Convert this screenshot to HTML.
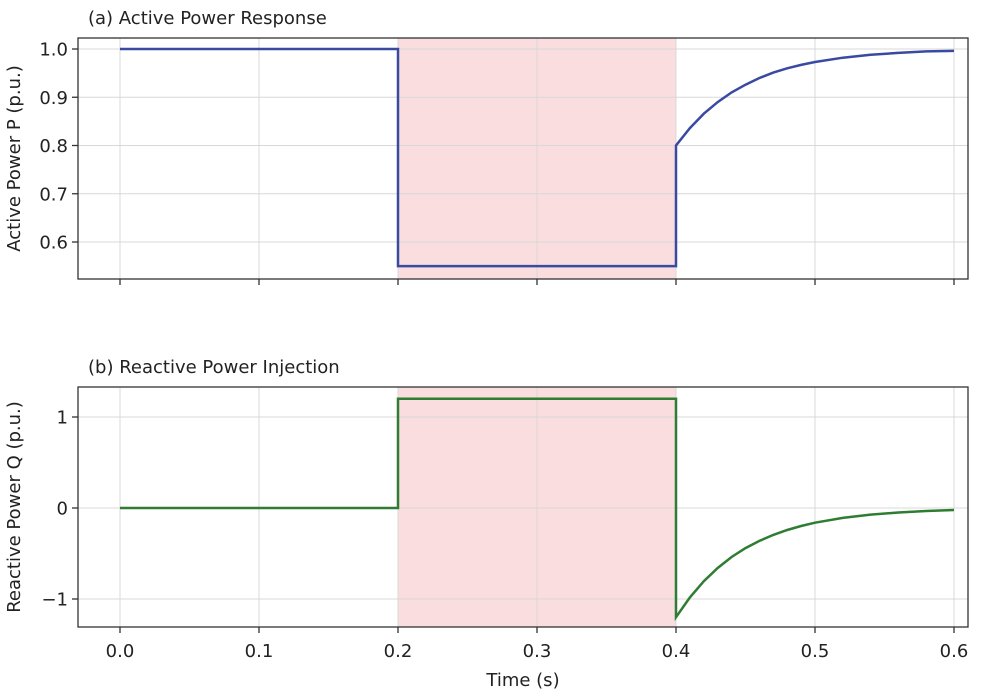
<!DOCTYPE html>
<html><head><meta charset="utf-8"><style>
body{margin:0;background:#fff;}
svg{display:block;font-family:"DejaVu Sans","Liberation Sans",sans-serif;}
</style></head><body>
<svg id="chart" width="999" height="695" viewBox="0 0 999 695"></svg>
<script>
// Data
const pTimes = [0,0.2,0.2,0.4,0.4,0.41,0.42,0.43,0.44,0.45,0.46,0.47,0.48,0.49,0.50,0.52,0.54,0.56,0.58,0.60];
const pValues = [1.0,1.0,0.55,0.55,0.800,0.836,0.866,0.890,0.910,0.926,0.940,0.951,0.960,0.967,0.973,0.982,0.988,0.992,0.995,0.996];
const qTimes = [0,0.2,0.2,0.4,0.4,0.41,0.42,0.43,0.44,0.45,0.46,0.47,0.48,0.49,0.50,0.52,0.54,0.56,0.58,0.60];
const qValues = [0,0,1.2,1.2,-1.2,-0.982,-0.804,-0.659,-0.539,-0.441,-0.361,-0.296,-0.242,-0.198,-0.162,-0.109,-0.073,-0.049,-0.033,-0.022];
const faultWindow = [0.2,0.4];
const xTicks = [0.0,0.1,0.2,0.3,0.4,0.5,0.6];
const pTicks = [0.6,0.7,0.8,0.9,1.0];
const qTicks = [-1,0,1];

const NS="http://www.w3.org/2000/svg";
const svg=document.getElementById('chart');
function mk(tag,attrs,parent){const e=document.createElementNS(NS,tag);for(const k in attrs)e.setAttribute(k,attrs[k]);(parent||svg).appendChild(e);return e;}
const L=78,R=968;
const xs=t=>120+(t-0)*(954-120)/0.6;

function panel(cfg){
  const {top,bottom,ys,yTicks,fmt,times,vals,color,title,ylabel,showXLabels,key}=cfg;
  const g=mk('g',{});
  
  
  const sh=mk('rect',{x:xs(faultWindow[0]),y:top,width:xs(faultWindow[1])-xs(faultWindow[0]),height:bottom-top,fill:'#f5b5ba',opacity:0.45,stroke:'#e0a0a5','stroke-width':1},g);
  
  
  xTicks.forEach(t=>{const l=mk('line',{x1:xs(t),x2:xs(t),y1:top,y2:bottom,stroke:'#d8d8d8','stroke-width':1},g);
    
    mk('line',{x1:xs(t),x2:xs(t),y1:bottom,y2:bottom+6,stroke:'#333','stroke-width':1.3},g);
    if(showXLabels){const tx=mk('text',{x:xs(t),y:bottom+30,'text-anchor':'middle','font-size':18,fill:'#222'},g);tx.textContent=t.toFixed(1);
      }
  });
  yTicks.forEach(v=>{const y=ys(v);const l=mk('line',{x1:L,x2:R,y1:y,y2:y,stroke:'#d8d8d8','stroke-width':1},g);
    
    mk('line',{x1:L-6,x2:L,y1:y,y2:y,stroke:'#333','stroke-width':1.3},g);
    const tx=mk('text',{x:L-10,y:y+6.5,'text-anchor':'end','font-size':18,fill:'#222'},g);tx.textContent=fmt(v);
    });
  const d=times.map((t,i)=>(i?'L':'M')+xs(t).toFixed(1)+','+ys(vals[i]).toFixed(1)).join(' ');
  const p=mk('path',{d:d,fill:'none',stroke:color,'stroke-width':2.5,'stroke-linejoin':'miter'},g);
  
  const box=mk('rect',{x:L,y:top,width:R-L,height:bottom-top,fill:'none',stroke:'#333','stroke-width':1.3},g);
  
  const tt=mk('text',{x:L+10,y:top-14,'font-size':18,fill:'#222'},g);tt.textContent=title;
  
  const cy=(top+bottom)/2;
  const yl=mk('text',{x:20,y:cy,'text-anchor':'middle','font-size':18,fill:'#222',transform:`rotate(-90 20 ${cy})`},g);yl.textContent=ylabel;
  
}
panel({key:'active-power',top:38,bottom:279,ys:v=>49+(1.0-v)*(242-49)/0.4,yTicks:pTicks,fmt:v=>v.toFixed(1),
  times:pTimes,vals:pValues,color:'#3a4aa0',title:'(a) Active Power Response',ylabel:'Active Power P (p.u.)',showXLabels:false});
panel({key:'reactive-power',top:387,bottom:627,ys:v=>508-v*91,yTicks:qTicks,fmt:v=>v<0?'\u2212'+Math.abs(v):String(v),
  times:qTimes,vals:qValues,color:'#2e7d32',title:'(b) Reactive Power Injection',ylabel:'Reactive Power Q (p.u.)',showXLabels:true});
const xl=mk('text',{x:523,y:686,'text-anchor':'middle','font-size':18,fill:'#222'});xl.textContent='Time (s)';


</script>
</body></html>
